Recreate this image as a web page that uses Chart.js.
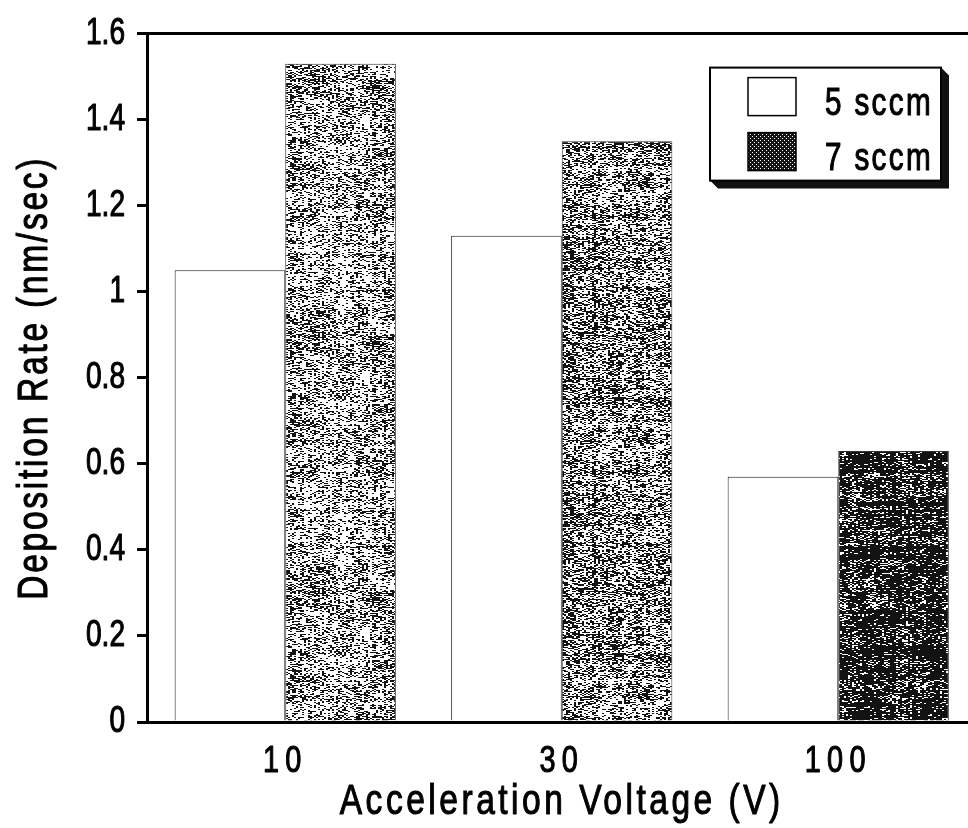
<!DOCTYPE html>
<html>
<head>
<meta charset="utf-8">
<title>Deposition Rate vs Acceleration Voltage</title>
<script src="https://cdn.jsdelivr.net/npm/chart.js@4/dist/chart.umd.min.js"></script>
<style>
  html, body { margin: 0; padding: 0; background: #fff; overflow: hidden; }
  #wrap { width: 990px; height: 828px; }
  canvas { display: block; }
</style>
</head>
<body>
<div id="wrap"><canvas id="chart" width="990" height="828"></canvas></div>
<script>
// Deposition rate (nm/sec) for each acceleration voltage and gas flow
const voltages = ['10', '30', '100'];
const rate5sccm = [1.05, 1.13, 0.57];
const rate7sccm = [1.53, 1.35, 0.63];
const seriesLabels = ['5 sccm', '7 sccm'];
const yTickValues = [0, 0.2, 0.4, 0.6, 0.8, 1, 1.2, 1.4, 1.6];
const xAxisTitle = 'Acceleration Voltage (V)';
const yAxisTitle = 'Deposition Rate (nm/sec)';

const FONT = '"Liberation Sans", Arial, sans-serif';
const CONDENSE = 0.78;   // horizontal squeeze for a narrow typeface look
const EMBOLDEN = 1.1;    // extra stroke around glyphs

// integer hash -> [0,1) used for the halftone texture
function hash(x, y, s) {
  let h = (Math.imul(x, 374761393) + Math.imul(y, 668265263) + Math.imul(s, 1442695041)) | 0;
  h = Math.imul(h ^ (h >>> 13), 1274126177);
  h ^= h >>> 16;
  return (h >>> 0) / 4294967296;
}

// grainy halftone fill, darker for higher density
function stipple(density, seed) {
  const w = 128, h = 256;
  const cv = document.createElement('canvas');
  cv.width = w; cv.height = h;
  const g = cv.getContext('2d');
  const img = g.createImageData(w, h);
  for (let y = 0; y < h; y++) {
    const row = hash(0, y >> 1, seed + 7);
    for (let x = 0; x < w; x++) {
      const col = hash(x >> 1, 0, seed + 13);
      const blob = hash(x >> 4, y >> 4, seed + 3);
      const p = density + 0.30 * (row - 0.5) + 0.16 * (col - 0.5) + 0.25 * (blob - 0.5);
      const dark = hash(x >> 1, y, seed) < p;
      const i = (y * w + x) * 4;
      const v = dark ? 18 : 255;
      img.data[i] = v; img.data[i + 1] = v; img.data[i + 2] = v; img.data[i + 3] = 255;
    }
  }
  g.putImageData(img, 0, 0);
  return document.createElement('canvas').getContext('2d').createPattern(cv, 'repeat');
}

// regular dot screen used in the key swatch
function dotScreen() {
  const cv = document.createElement('canvas');
  cv.width = 4; cv.height = 4;
  const g = cv.getContext('2d');
  g.fillStyle = '#151515';
  g.fillRect(0, 0, 4, 4);
  g.fillStyle = '#ffffff';
  g.fillRect(0, 0, 1, 1);
  g.fillRect(2, 2, 1, 1);
  return g.createPattern(cv, 'repeat');
}

const fill7 = [stipple(0.36, 11), stipple(0.47, 23), stipple(0.80, 37)];
const keySwatch = dotScreen();

// run fn with text drawn narrow, slightly bold and letter-spaced
function condensedText(ctx, spacing, fn) {
  const orig = ctx.fillText;
  ctx.save();
  ctx.letterSpacing = spacing;
  ctx.fillText = function (text, x, y) {
    this.save();
    this.scale(CONDENSE, 1);
    this.lineWidth = EMBOLDEN;
    this.lineJoin = 'round';
    this.strokeStyle = this.fillStyle;
    this.strokeText(text, x / CONDENSE, y);
    orig.call(this, text, x / CONDENSE, y);
    this.restore();
  };
  try { fn(); } finally { delete ctx.fillText; ctx.restore(); }
}

const TEXT_SPACING = {
  xTitle: '4.5px', yTitle: '3.5px', xLabels: '8px', yLabels: '0px'
};

// axis titles and tick labels with the narrow lettering
const narrowAxisText = {
  id: 'narrowAxisText',
  beforeDraw(chart) {
    const ctx = chart.ctx;
    for (const id of ['x', 'y']) {
      const s = chart.scales[id];
      if (!s || s._narrow) continue;
      const origTitle = s.drawTitle.bind(s);
      const origLabels = s.drawLabels.bind(s);
      s.drawTitle = () => condensedText(ctx, TEXT_SPACING[id + 'Title'], origTitle);
      s.drawLabels = (area) => condensedText(ctx, TEXT_SPACING[id + 'Labels'], () => origLabels(area));
      s._narrow = true;
    }
  }
};

// top and right frame lines of the plot box
const frameLines = {
  id: 'frameLines',
  afterDatasetsDraw(chart) {
    const { ctx, chartArea: a } = chart;
    ctx.save();
    ctx.strokeStyle = '#000';
    ctx.lineWidth = 3;
    ctx.beginPath();
    ctx.moveTo(a.left, a.top);
    ctx.lineTo(a.right, a.top);
    ctx.lineTo(a.right, a.bottom);
    ctx.stroke();
    ctx.restore();
  }
};

// boxed key with drop shadow in the upper right
const boxKey = {
  id: 'boxKey',
  afterDraw(chart) {
    const { ctx, chartArea: a } = chart;
    const x0 = a.left + 563, y0 = a.top + 34, w = 231, h = 113, d = 8;
    ctx.save();
    ctx.fillStyle = '#111';
    ctx.beginPath();
    ctx.moveTo(x0 + w, y0);
    ctx.lineTo(x0 + w + d, y0 + d);
    ctx.lineTo(x0 + w + d, y0 + h + d);
    ctx.lineTo(x0 + d, y0 + h + d);
    ctx.lineTo(x0, y0 + h);
    ctx.closePath();
    ctx.fill();
    ctx.fillStyle = '#fff';
    ctx.fillRect(x0, y0, w, h);
    ctx.strokeStyle = '#000';
    ctx.lineWidth = 2;
    ctx.strokeRect(x0, y0, w, h);

    const sx = x0 + 38, sw = 48, sh = 38;
    const rows = [y0 + 10, y0 + 65];
    const fills = ['#ffffff', keySwatch];
    chart.data.datasets.forEach((ds, i) => {
      ctx.fillStyle = fills[i];
      ctx.fillRect(sx, rows[i], sw, sh);
      ctx.lineWidth = 1.5;
      ctx.strokeStyle = '#000';
      ctx.strokeRect(sx, rows[i], sw, sh);
      condensedText(ctx, '3px', () => {
        ctx.font = '38px ' + FONT;
        ctx.textBaseline = 'alphabetic';
        ctx.textAlign = 'left';
        ctx.fillStyle = '#000';
        ctx.fillText(ds.label, x0 + 115, rows[i] + 37);
      });
    });
    ctx.restore();
  }
};

new Chart(document.getElementById('chart'), {
  type: 'bar',
  data: {
    labels: voltages,
    datasets: [
      {
        label: seriesLabels[0],
        data: rate5sccm,
        backgroundColor: '#ffffff',
        borderColor: '#1e1e1e',
        borderWidth: 1,
        borderSkipped: 'bottom'
      },
      {
        label: seriesLabels[1],
        data: rate7sccm,
        backgroundColor: fill7,
        borderColor: '#333333',
        borderWidth: 1,
        borderSkipped: 'bottom'
      }
    ]
  },
  options: {
    responsive: false,
    animation: false,
    events: [],
    layout: { padding: { top: 30, left: 0, right: 13.5, bottom: 0 } },
    datasets: { bar: { categoryPercentage: 0.8, barPercentage: 1.0 } },
    plugins: {
      legend: { display: false },
      tooltip: { enabled: false }
    },
    scales: {
      x: {
        grid: { display: false, drawTicks: false },
        border: { display: true, color: '#000', width: 3 },
        ticks: { color: '#000', font: { family: FONT, size: 37 }, padding: 18 },
        title: {
          display: true, text: xAxisTitle, color: '#000',
          font: { family: FONT, size: 43 }, padding: { top: 0, bottom: 0 }
        },
        afterFit(s) { s.height = 106; }
      },
      y: {
        min: 0, max: 1.6,
        afterBuildTicks(s) { s.ticks = yTickValues.map(v => ({ value: v })); },
        grid: {
          display: true, drawOnChartArea: false, drawTicks: true,
          tickLength: 10, lineWidth: 3, color: '#000'
        },
        border: { display: true, color: '#000', width: 3 },
        ticks: {
          color: '#000', font: { family: FONT, size: 36 }, padding: 12,
          callback: v => String(Number(v.toFixed(1)))
        },
        title: {
          display: true, text: yAxisTitle, color: '#000',
          font: { family: FONT, size: 43 }, padding: { top: 9, bottom: 0 }
        },
        afterFit(s) { s.width = 147; }
      }
    }
  },
  plugins: [narrowAxisText, frameLines, boxKey]
});
</script>
</body>
</html>
